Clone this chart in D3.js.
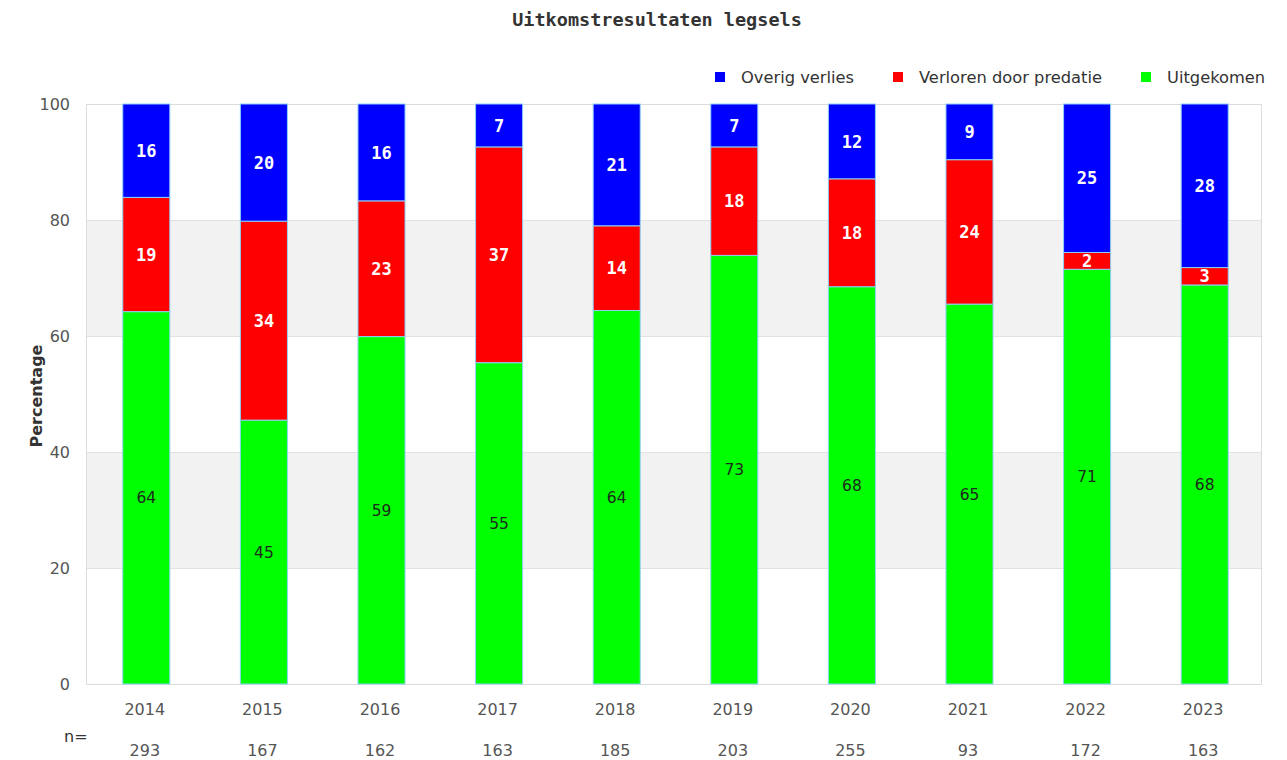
<!DOCTYPE html>
<html>
<head>
<meta charset="utf-8">
<script src="https://cdn.jsdelivr.net/npm/d3@7"></script>
<style>
  html, body { margin: 0; padding: 0; background: #fff; }
  svg { display: block; }
</style>
</head>
<body>
<svg id="chart" width="1287" height="760"></svg>
<script>
const years = ["2014","2015","2016","2017","2018","2019","2020","2021","2022","2023"];
const nValues = [293,167,162,163,185,203,255,93,172,163];
const uitgekomen = [64.2,45.5,59.9,55.4,64.4,73.9,68.5,65.5,71.5,68.8];
const predatie   = [19.7,34.3,23.4,37.2,14.6,18.7,18.6,24.9,2.9,3.0];
const overig     = [16.1,20.2,16.7,7.4,21.0,7.4,12.9,9.6,25.6,28.2];
const yTicks = [0,20,40,60,80,100];
const seriesNames = ["Uitgekomen","Verloren door predatie","Overig verlies"];
const seriesColors = ["#00ff00","#ff0000","#0000ff"];
const legendOrder = ["Overig verlies","Verloren door predatie","Uitgekomen"];

(function() {
const svg = d3.select("#chart");
const pLeft = 86, pRight = 1262, pTop = 104, pBottom = 684;

const y = d3.scaleLinear().domain([0,100]).range([pBottom, pTop]);
const x = d3.scaleBand().domain(years).range([pLeft, pRight]).paddingInner(0.6).paddingOuter(0.3);

// title
svg.append("text").attr("x", 657).attr("y", 26).attr("text-anchor","middle")
  .attr("font-family","'DejaVu Sans Mono', monospace").attr("font-weight","bold")
  .attr("font-size", 18.5).attr("fill","#333").text("Uitkomstresultaten legsels");

// bands
const bands = [[20,40],[60,80]];
svg.selectAll("rect.band").data(bands).enter().append("rect")
  .attr("x", pLeft).attr("width", pRight-pLeft)
  .attr("y", d => y(d[1])).attr("height", d => y(d[0]) - y(d[1]))
  .attr("fill","#f2f2f2");

// grid lines
svg.selectAll("line.grid").data(yTicks.slice(1,-1)).enter().append("line")
  .attr("x1", pLeft).attr("x2", pRight)
  .attr("y1", d => y(d)+0.5).attr("y2", d => y(d)+0.5)
  .attr("stroke","#e2e2e2").attr("stroke-width",1);

// border
svg.append("rect").attr("x", pLeft+0.5).attr("y", pTop+0.5)
  .attr("width", pRight-pLeft-1).attr("height", pBottom-pTop)
  .attr("fill","none").attr("stroke","#dcdcdc").attr("stroke-width",1);

// y tick labels
svg.selectAll("text.ytick").data(yTicks).enter().append("text")
  .attr("x", 70).attr("y", d => y(d)).attr("dy","0.36em")
  .attr("text-anchor","end").attr("font-family","'DejaVu Sans', sans-serif")
  .attr("font-size", 16).attr("fill","#555").text(d => d);

// y axis title
svg.append("text").attr("transform","translate(42,396) rotate(-90)")
  .attr("text-anchor","middle").attr("font-family","'DejaVu Sans', sans-serif")
  .attr("font-weight","bold").attr("font-size", 16).attr("fill","#333").text("Percentage");

// stacked data
const table = years.map((yr,i) => ({year: yr, "Uitgekomen": uitgekomen[i], "Verloren door predatie": predatie[i], "Overig verlies": overig[i]}));
const stack = d3.stack().keys(seriesNames)(table);
const offset = 1.5;

stack.forEach((layer, li) => {
  const g = svg.append("g");
  g.selectAll("rect").data(layer).enter().append("rect")
    .attr("x", d => x(d.data.year) + offset)
    .attr("width", x.bandwidth())
    .attr("y", d => y(d[1]))
    .attr("height", d => y(d[0]) - y(d[1]))
    .attr("fill", seriesColors[li])
    .attr("stroke", "#8fd0f5").attr("stroke-width", 1);
  g.selectAll("text").data(layer).enter().append("text")
    .attr("x", d => x(d.data.year) + offset + x.bandwidth()/2)
    .attr("y", d => (y(d[0]) + y(d[1]))/2)
    .attr("dy", "0.36em").attr("text-anchor","middle")
    .attr("font-family", li === 0 ? "'DejaVu Sans', sans-serif" : "'DejaVu Sans Mono', monospace")
    .attr("font-weight", li === 0 ? "normal" : "bold")
    .attr("font-size", li === 0 ? 15.5 : 17)
    .attr("fill", li === 0 ? "#1e2a1e" : "#ffffff")
    .text(d => Math.floor(d.data[layer.key] + 1e-9));
});

// x labels
svg.selectAll("text.xlab").data(years).enter().append("text")
  .attr("x", d => x(d) + x.bandwidth()/2).attr("y", 715)
  .attr("text-anchor","middle").attr("font-family","'DejaVu Sans', sans-serif")
  .attr("font-size", 16).attr("fill","#555").text(d => d);

svg.append("text").attr("x", 64).attr("y", 742)
  .attr("font-family","'DejaVu Sans', sans-serif")
  .attr("font-size", 16).attr("fill","#333").text("n=");

svg.selectAll("text.nlab").data(nValues).enter().append("text")
  .attr("x", (d,i) => x(years[i]) + x.bandwidth()/2).attr("y", 756)
  .attr("text-anchor","middle").attr("font-family","'DejaVu Sans', sans-serif")
  .attr("font-size", 16).attr("fill","#555").text(d => d);

// legend
const legendX = [715, 893, 1141];
const lg = svg.selectAll("g.leg").data(legendOrder).enter().append("g")
  .attr("transform", (d,i) => `translate(${legendX[i]},77)`);
lg.append("rect").attr("x",0).attr("y",-5).attr("width",10).attr("height",10)
  .attr("fill", d => seriesColors[seriesNames.indexOf(d)]);
lg.append("text").attr("x", 26).attr("y", 0).attr("dy","0.36em")
  .attr("font-family","'DejaVu Sans', sans-serif").attr("font-size", 16.3)
  .attr("fill","#333").text(d => d);
})();
</script>
</body>
</html>
